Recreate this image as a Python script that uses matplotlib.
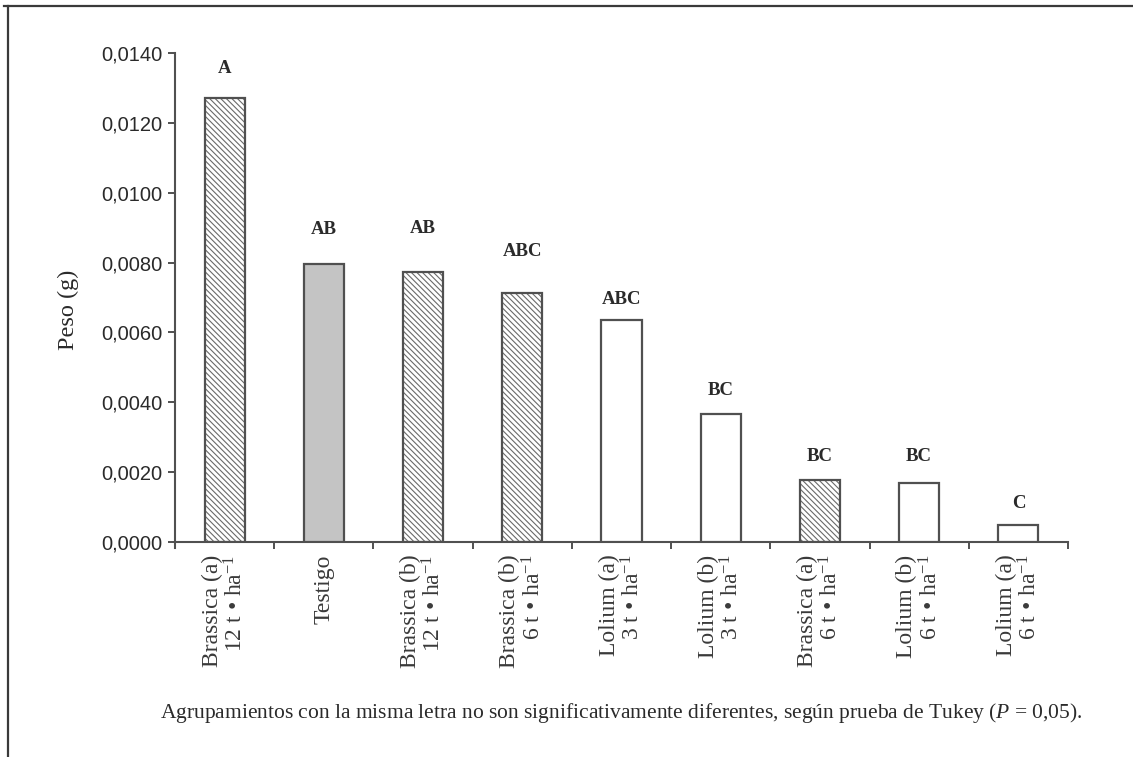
import matplotlib
matplotlib.use("Agg")
import matplotlib.pyplot as plt
from matplotlib.lines import Line2D

# Treatments, mean dry weight (g) and Tukey grouping letters
treatments = [
    "Brassica (a)\n12 t • ha$^{-1}$",
    "Testigo",
    "Brassica (b)\n12 t • ha$^{-1}$",
    "Brassica (b)\n6 t • ha$^{-1}$",
    "Lolium (a)\n3 t • ha$^{-1}$",
    "Lolium (b)\n3 t • ha$^{-1}$",
    "Brassica (a)\n6 t • ha$^{-1}$",
    "Lolium (b)\n6 t • ha$^{-1}$",
    "Lolium (a)\n6 t • ha$^{-1}$",
]
peso = [0.01271, 0.00795, 0.00773, 0.00712, 0.00635, 0.00366, 0.00177, 0.00170, 0.00049]
grupos = ["A", "AB", "AB", "ABC", "ABC", "BC", "BC", "BC", "C"]
kind = ["brassica", "control", "brassica", "brassica", "lolium", "lolium", "brassica", "lolium", "lolium"]
yticks = [0.0, 0.002, 0.004, 0.006, 0.008, 0.010, 0.012, 0.014]
ytick_labels = ["0,0000", "0,0020", "0,0040", "0,0060", "0,0080", "0,0100", "0,0120", "0,0140"]
nota = ("Agrupamientos con la misma letra no son significativamente diferentes, "
        "según prueba de Tukey ($\\mathit{P}$ = 0,05).")

# gap (in points) between bar top and its letter label
letter_pad = [15, 19, 25, 24, 9, 11, 11, 13, 9]

plt.rcParams["mathtext.fontset"] = "custom"
plt.rcParams["mathtext.rm"] = "Liberation Serif"
plt.rcParams["mathtext.it"] = "Liberation Serif:italic"
plt.rcParams["mathtext.bf"] = "Liberation Serif:bold"
plt.rcParams["hatch.linewidth"] = 0.8
plt.rcParams["hatch.color"] = "#6a6a6a"

TXT = "#2a2a2a"
EDGE = "#505050"
SERIF = ["Liberation Serif", "DejaVu Serif"]

fig = plt.figure(figsize=(11.33, 7.57), dpi=100)
ax = fig.add_axes([175 / 1133, 1 - 542 / 757, (1068 - 175) / 1133, (542 - 53) / 757])

x = list(range(len(peso)))
w = 0.405
for i, (v, k) in enumerate(zip(peso, kind)):
    if k == "brassica":
        ax.bar(i, v, width=w, color="white", edgecolor="#6a6a6a", hatch="\\\\\\\\\\\\",
               linewidth=0, zorder=2)
        ax.bar(i, v, width=w, fill=False, edgecolor=EDGE, linewidth=1.6, zorder=3)
    elif k == "control":
        ax.bar(i, v, width=w, color="#c4c4c4", edgecolor=EDGE, linewidth=1.6, zorder=3)
    else:
        ax.bar(i, v, width=w, color="white", edgecolor=EDGE, linewidth=1.6, zorder=3)

for i, (v, g) in enumerate(zip(peso, grupos)):
    ax.annotate(g, (i, v), xytext=(0, letter_pad[i]), textcoords="offset points",
                ha="center", va="bottom", fontsize=13.5, fontweight="bold",
                family=SERIF, color=TXT)

ax.set_xlim(-0.5, len(peso) - 0.5)
ax.set_ylim(0, 0.014)
ax.set_yticks(yticks)
ax.set_yticklabels(ytick_labels, family="Liberation Sans", fontsize=14.5, color=TXT)
ax.tick_params(axis="y", direction="out", length=5, width=1.4, color=EDGE, pad=4)

# boundaries between treatments carry the tick marks; centres carry the names
ax.set_xticks([i - 0.5 for i in range(len(peso) + 1)])
ax.set_xticklabels([])
ax.tick_params(axis="x", which="major", direction="out", length=5, width=1.4, color=EDGE)
ax.set_xticks(x, minor=True)
ax.set_xticklabels(treatments, minor=True, rotation=90, family=SERIF, fontsize=17,
                   color="#3a3a3a", ha="center", va="top", multialignment="right",
                   linespacing=1.08)
ax.tick_params(axis="x", which="minor", length=0, pad=9)

for s in ["top", "right"]:
    ax.spines[s].set_visible(False)
for s in ["left", "bottom"]:
    ax.spines[s].set_color(EDGE)
    ax.spines[s].set_linewidth(1.5)
ax.spines["left"].set_bounds(-0.00016, 0.014)

ax.set_ylabel("Peso (g)", family=SERIF, fontsize=17.5, color=TXT)
ax.yaxis.set_label_coords(-0.107, 0.475)

fig.text(160 / 1133, 1 - 713 / 757, nota, family=SERIF, fontsize=15.5, color=TXT,
         ha="left", va="center")

# page frame: rule along the top and down the left side
fig.add_artist(Line2D([4 / 1133, 1.0], [1 - 6 / 757] * 2, transform=fig.transFigure,
                      color="#3a3a3a", linewidth=1.6))
fig.add_artist(Line2D([8 / 1133] * 2, [0.0, 1 - 6 / 757], transform=fig.transFigure,
                      color="#3a3a3a", linewidth=1.6))

fig.savefig("out.png", dpi=100, facecolor="white")
